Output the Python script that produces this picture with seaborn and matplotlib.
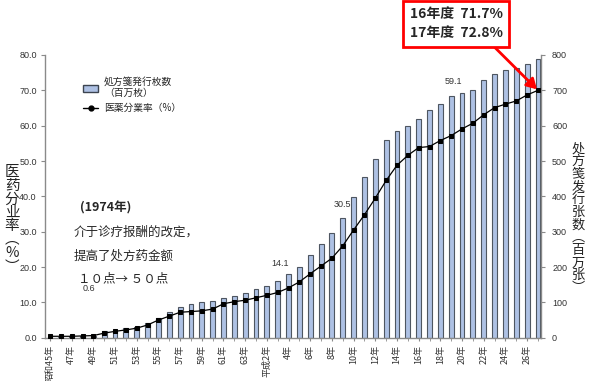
# plot.py
# Seaborn bar + line chart: prescriptions issued and separation rate (Japan)
import numpy as np
import pandas as pd
import seaborn as sns
import matplotlib.pyplot as plt
from matplotlib.patches import Patch
from matplotlib.lines import Line2D

# ----- data -----
fiscal_years = list(range(1970, 2016))  # 昭和45年 .. 平成27年

rx_issued = [3, 3, 4, 5, 6, 19, 22, 27, 31, 41,
             55, 72, 88, 94, 102, 105, 113, 119, 127, 137,
             145, 160, 179, 201, 235, 265, 295, 338, 399, 456,
             506, 559, 585, 598, 618, 644, 660, 683, 693, 701,
             728, 745, 757, 762, 774, 788]

sep_rate = [0.4, 0.4, 0.4, 0.5, 0.6, 1.3, 1.8, 2.2, 2.7, 3.6,
            5.0, 6.1, 7.2, 7.4, 7.6, 8.1, 9.6, 10.2, 10.6, 11.3,
            12.0, 12.8, 14.1, 15.8, 18.1, 20.3, 22.5, 26.0, 30.5, 34.8,
            39.5, 44.5, 48.8, 51.6, 53.8, 54.1, 55.8, 57.2, 59.1, 60.7,
            63.1, 65.1, 66.1, 67.0, 68.7, 70.0]

tick_labels = ["昭和45年", "47年", "49年", "51年", "53年", "55年", "57年", "59年",
               "61年", "63年", "平成2年", "4年", "6年", "8年", "10年", "12年",
               "14年", "16年", "18年", "20年", "22年", "24年", "26年"]

labelled_years = [1974, 1992, 1998, 2008]

df = pd.DataFrame({"year": fiscal_years, "rx": rx_issued, "rate": sep_rate})
df["pos"] = np.arange(len(df))

# ----- styling -----
sns.set_style("white")
plt.rcParams["font.family"] = ["Noto Sans CJK SC", "DejaVu Sans"]

W, H = 590, 381
fig = plt.figure(figsize=(W / 100, H / 100), dpi=100)


def fx(x):
    return x / W


def fy(y):
    return 1 - y / H


ax = fig.add_axes([fx(45), fy(337.7), fx(541) - fx(45), fy(55) - fy(337.7)])

sns.barplot(data=df, x="pos", y="rx", ax=ax, color="#aec1e4", saturation=1,
            edgecolor="#4e5661", linewidth=0.8, width=0.45)
ax.set_ylim(0, 800)
ax.set_xlim(-0.46, len(df) - 0.72)

ax2 = ax.twinx()
sns.lineplot(data=df, x="pos", y="rate", ax=ax2, color="black", linewidth=0.9,
             marker="s", markersize=3, markeredgecolor="black")
ax2.set_ylim(0, 80)

# ----- axes / ticks -----
grey = "#8a8a8a"
num_font = ["Liberation Sans", "DejaVu Sans"]
for s in ax2.spines.values():
    s.set_visible(False)
ax.spines["top"].set_visible(False)
for side in ["left", "right", "bottom"]:
    ax.spines[side].set_color(grey)
    ax.spines[side].set_linewidth(1)

ax.yaxis.tick_right()
ax.set_yticks(np.arange(0, 801, 100))
ax.set_yticklabels([f"{v}" for v in range(0, 801, 100)], family=num_font)
ax.tick_params(axis="y", right=True, left=False, labelright=True, labelleft=False,
               length=3, color=grey, labelsize=6.5, labelcolor="#333333", pad=5)

ax2.yaxis.tick_left()
ax2.set_yticks(np.arange(0, 81, 10))
ax2.set_yticklabels([f"{v:.1f}" for v in range(0, 81, 10)], family=num_font)
ax2.tick_params(axis="y", left=True, right=False, labelleft=True, labelright=False,
                length=3, color=grey, labelsize=6.5, labelcolor="#333333", pad=3)

ax.set_xticks(np.arange(0, len(df), 2))
ax.set_xticklabels(tick_labels, rotation=90, fontsize=6.5, color="#333333",
                   family=["Noto Sans CJK JP", "DejaVu Sans"])
ax.set_xticks(np.arange(len(df)), minor=True)
ax.tick_params(axis="x", which="both", bottom=True, length=2, color=grey, pad=3)
ax.set_xlabel("")
ax.set_ylabel("")
ax2.set_ylabel("")

# ----- axis titles (vertical, stacked) -----
fig.text(fx(12), fy(219.5), "医\n药\n分\n业\n率\n︵\n%\n︶", ha="center", va="center",
         fontsize=10.5, linespacing=0.95, color="#222222")
fig.text(fx(578), fy(218.5), "处\n方\n笺\n发\n行\n张\n数\n︵\n百\n万\n张\n︶",
         ha="center", va="center", fontsize=9.5, linespacing=0.97, color="#222222")

# ----- value labels -----
offsets = {1974: (-4, 47), 1992: (-8, 24), 1998: (-11, 25), 2008: (-9, 47)}
for yr in labelled_years:
    row = df[df["year"] == yr].iloc[0]
    dx, dy = offsets[yr]
    ax2.annotate(f"{row['rate']:.1f}", (row["pos"], row["rate"]),
                 xytext=(dx, dy), textcoords="offset pixels", ha="center", va="center",
                 fontsize=6.5, color="#333333", family=num_font)

# ----- legend -----
handles = [Patch(facecolor="#aec1e4", edgecolor="#3c4450", linewidth=1),
           Line2D([0], [0], color="black", lw=1, marker="o", markersize=3.5)]
ax2.legend(handles, ["処方箋発行枚数\n（百万枚）", "医薬分業率（%）"],
           loc="upper left", bbox_to_anchor=(fx(74), fy(68)), bbox_transform=fig.transFigure,
           frameon=False, handlelength=1.6, handletextpad=0.6, labelspacing=0.5,
           prop={"family": ["Noto Sans CJK JP", "DejaVu Sans"], "size": 7})

# ----- note text -----
fig.text(fx(80), fy(208), "(1974年)", fontsize=9, fontweight="bold", va="center", ha="left")
fig.text(fx(74), fy(231.7), "介于诊疗报酬的改定，", fontsize=9, va="center", ha="left")
fig.text(fx(74), fy(256), "提高了处方药金额", fontsize=9, va="center", ha="left")
fig.text(fx(78), fy(279), "１０点→ ５０点", fontsize=9, va="center", ha="left")

# ----- red callout -----
last = df.iloc[-1]
ax2.annotate("16年度  71.7%\n17年度  72.8%", xy=(last["pos"], last["rate"]),
             xytext=(fx(456), fy(23.5)), textcoords="figure fraction",
             ha="center", va="center", fontsize=10, fontweight="bold", linespacing=1.5,
             bbox=dict(boxstyle="square,pad=0.45", fc="white", ec="red", lw=2),
             arrowprops=dict(arrowstyle="-|>,head_length=0.6,head_width=0.35", color="red",
                             lw=2, shrinkA=0, shrinkB=1, relpos=(0.84, 0)))

plt.savefig("out.png", dpi=100)
